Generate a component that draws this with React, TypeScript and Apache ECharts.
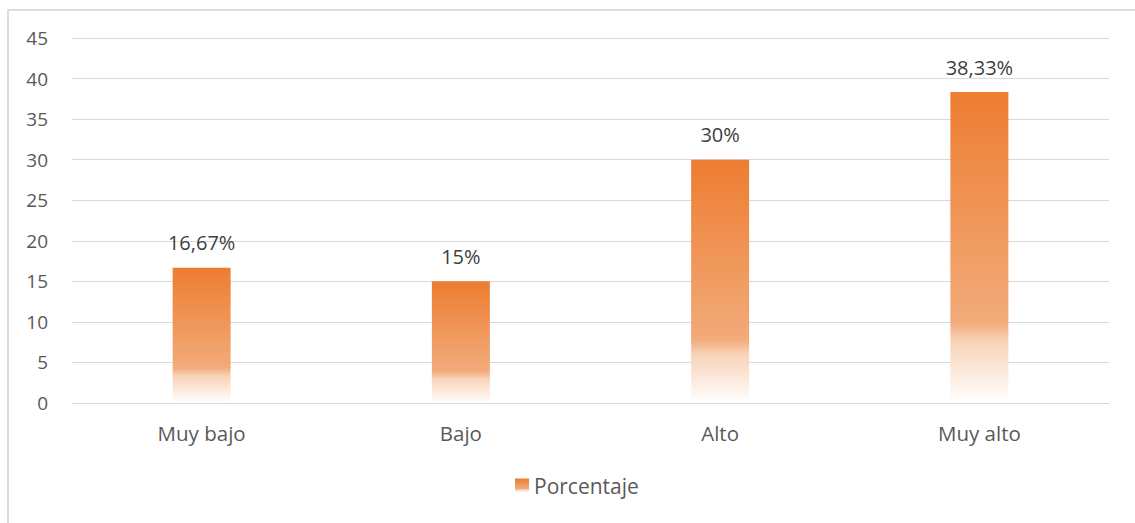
import React, { useEffect, useRef } from "react";
import * as echarts from "echarts";

const categories = ["Muy bajo", "Bajo", "Alto", "Muy alto"];
const values = [16.67, 15, 30, 38.33];
const valueLabels = ["16,67%", "15%", "30%", "38,33%"];
const seriesName = "Porcentaje";

const FONT = "'Open Sans', 'Noto Sans', sans-serif";

export default function App() {
  const ref = useRef<HTMLDivElement>(null);
  useEffect(() => {
    if (!ref.current) return;
    const chart = echarts.init(ref.current, undefined, { renderer: "svg" });
    const grad = new echarts.graphic.LinearGradient(0, 0, 0, 1, [
      { offset: 0, color: "#ED7D31" },
      { offset: 0.74, color: "#F2AB7A" },
      { offset: 0.8, color: "#F8D3B8" },
      { offset: 1, color: "#FFFFFF" },
    ]);
    chart.setOption({
      animation: false,
      backgroundColor: "transparent",
      grid: { left: 72, right: 26, top: 38, bottom: 120, containLabel: false },
      legend: {
        data: [seriesName],
        bottom: 22,
        left: 510,
        itemWidth: 14,
        itemHeight: 14,
        itemGap: 6,
        icon: "rect",
        textStyle: { fontFamily: FONT, fontSize: 21, color: "#595959" },
      },
      xAxis: {
        type: "category",
        data: categories,
        axisLine: { lineStyle: { color: "#d9d9d9", width: 1 } },
        axisTick: { show: false },
        axisLabel: { fontFamily: FONT, fontSize: 20.5, color: "#595959", margin: 19 },
      },
      yAxis: {
        type: "value",
        min: 0,
        max: 45,
        interval: 5,
        axisLine: { show: false },
        axisTick: { show: false },
        splitLine: { lineStyle: { color: "#d9d9d9", width: 1 } },
        axisLabel: { fontFamily: FONT, fontSize: 19, color: "#595959", margin: 24 },
      },
      series: [
        {
          name: seriesName,
          type: "bar",
          data: values,
          barWidth: 58,
          itemStyle: { color: grad },
          label: {
            show: true,
            position: "top",
            distance: 15,
            fontFamily: FONT,
            fontSize: 20,
            color: "#404040",
            formatter: (p: any) => valueLabels[p.dataIndex],
          },
        },
      ],
    });
    return () => chart.dispose();
  }, []);
  return (
    <>
      <div
        ref={ref}
        style={{ position: "fixed", left: 0, top: 0, width: 1135, height: 523, background: "#fff" }}
      />
      <div
        style={{
          position: "fixed",
          left: 7,
          top: 9,
          width: 1200,
          height: 600,
          border: "2px solid #dcdcdc",
          boxSizing: "border-box",
          pointerEvents: "none",
        }}
      />
    </>
  );
}
